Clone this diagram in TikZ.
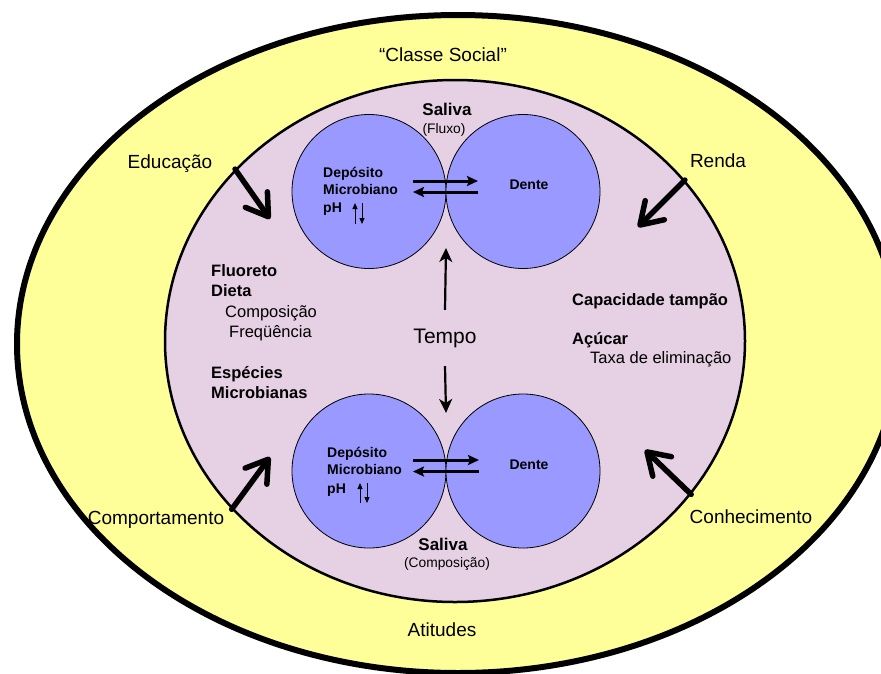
\documentclass[tikz,border=0pt]{standalone}
\usepackage{fontspec}
\setmainfont{Liberation Sans}
\usetikzlibrary{arrows.meta,shapes.geometric}
\definecolor{RingYellow}{HTML}{FFFF99}
\definecolor{CorePink}{HTML}{E6D0E4}
\definecolor{DiskBlue}{HTML}{9999FF}

\begin{document}
\begin{tikzpicture}[x=1pt,y=-1pt,
ring/.style={draw,ellipse,inner sep=0pt},
disk/.style={circle,draw,fill=DiskBlue,minimum size=154pt,inner sep=0pt,line width=0.8pt},
outerlbl/.style={font=\fontsize{19}{22}\selectfont,inner sep=0pt,anchor=base},
lbl/.style={font=\fontsize{16.5}{20}\selectfont,inner sep=0pt,anchor=base west},
lblb/.style={lbl,font=\fontsize{16.5}{20}\selectfont\bfseries},
disklbl/.style={font=\fontsize{14}{17}\selectfont\bfseries,inner sep=0pt,anchor=base west},
sal/.style={font=\fontsize{17}{20}\selectfont\bfseries,inner sep=0pt,anchor=base},
salsub/.style={font=\fontsize{13.8}{16}\selectfont,inner sep=0pt,anchor=base},
bigarr/.style={line width=5.5pt,line cap=round,-{Straight Barb[length=21pt,width=27pt,round]}},
dbl/.style={line width=3pt,-{Stealth[length=11pt,width=10pt,inset=2pt]}},
tarr/.style={line width=2.2pt,-{Stealth[length=14pt,width=13pt,inset=4pt]}},
ph/.style={line width=1pt,-{Triangle[length=6pt,width=5pt]}}
]
\useasboundingbox (0,0) rectangle (881,673);
\node[ring,fill=RingYellow,line width=6pt,minimum width=882pt,minimum height=658pt] (outer) at (458,344) {};
\node[ring,fill=CorePink,line width=2.5pt,minimum width=580pt,minimum height=522pt] (core) at (455,341) {};

\node[outerlbl] (classe) at (443,61) {``Classe Social''};
\node[outerlbl] (edu) at (170,168) {Educação};
\node[outerlbl] (renda) at (718,167) {Renda};
\node[outerlbl] (comp) at (156,524) {Comportamento};
\node[outerlbl] (conh) at (751,523) {Conhecimento};
\node[outerlbl] (atit) at (442,636) {Atitudes};

\coordinate (eduTip) at (270,219);
\coordinate (rendaTip) at (638,227);
\coordinate (compTip) at (270,457);
\coordinate (conhTip) at (645,450);
\draw[bigarr] (core.142) -- (eduTip);
\draw[bigarr] (core.35) -- (rendaTip);
\draw[bigarr] (core.217) -- (compTip);
\draw[bigarr] (core.327) -- (conhTip);

\node[disk] (dep1) at (369,191.5) {};
\node[disk] (den1) at (523,191.5) {};
\node[disk] (dep2) at (369,471) {};
\node[disk] (den2) at (523,471) {};

\node[sal] (sal1) at (447,115) {Saliva};
\node[salsub] (flux) at (444,133) {(Fluxo)};
\node[disklbl] (dpa1) at (323,177) {Depósito};
\node[disklbl] (dpb1) at (323,194) {Microbiano};
\node[disklbl] (dpc1) at (323,212) {pH};
\node[disklbl,anchor=base] (dnt1) at (529,189) {Dente};
\draw[ph] (355,224) -- (355,203);
\draw[ph] (362,203) -- (362,224);
\draw[dbl] ([shift={(44,-10.5)}]dep1.center) -- ([shift={(-45,-10.5)}]den1.center);
\draw[dbl] ([shift={(-45,0.5)}]den1.center) -- ([shift={(44,0.5)}]dep1.center);

\node[disklbl] (dpa2) at (327,457) {Depósito};
\node[disklbl] (dpb2) at (327,474) {Microbiano};
\node[disklbl] (dpc2) at (327,493) {pH};
\node[disklbl,anchor=base] (dnt2) at (529,469) {Dente};
\draw[ph] (360,503) -- (360,483);
\draw[ph] (367,483) -- (367,503);
\draw[dbl] ([shift={(44,-11)}]dep2.center) -- ([shift={(-44,-11)}]den2.center);
\draw[dbl] ([shift={(-44,0.5)}]den2.center) -- ([shift={(44,0.5)}]dep2.center);
\node[sal] (sal2) at (443,550) {Saliva};
\node[salsub] (compo) at (447,567) {(Composição)};

\node[font=\fontsize{21}{24}\selectfont,inner sep=0pt,minimum height=56pt] (tempo) at (445,338) {Tempo};
\coordinate (tUp) at (446,248);
\coordinate (tDown) at (446,413);
\draw[tarr] (tempo.north) -- (tUp);
\draw[tarr] (tempo.south) -- (tDown);

\node[lblb] (fluor) at (211,276) {Fluoreto};
\node[lblb] (dieta) at (211,296) {Dieta};
\node[lbl] (compos) at (225,317) {Composição};
\node[lbl] (freq) at (229,337) {Freqüência};
\node[lblb] (esp) at (211,378) {Espécies};
\node[lblb] (micro) at (211,398) {Microbianas};

\node[lblb] (tamp) at (572,305) {Capacidade tampão};
\node[lblb] (acuc) at (572,344) {Açúcar};
\node[lbl] (taxa) at (590,363) {Taxa de eliminação};
\end{tikzpicture}
\end{document}
